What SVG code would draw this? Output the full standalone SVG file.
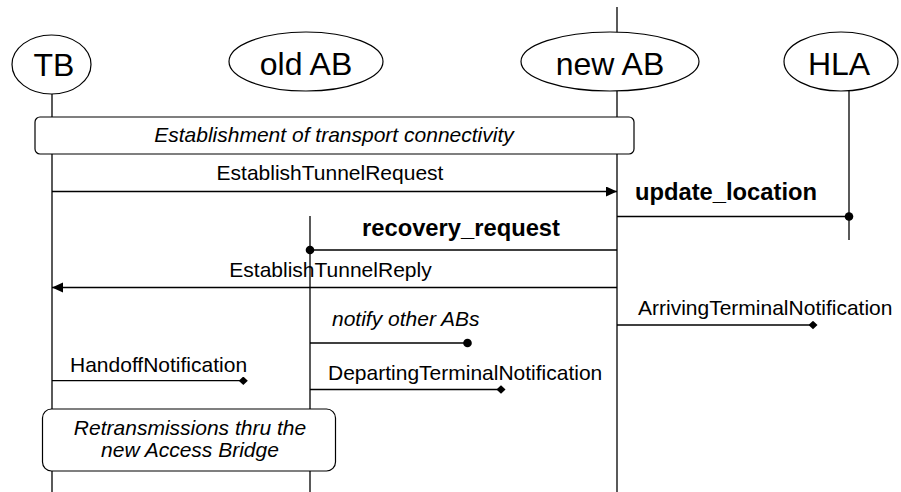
<svg xmlns="http://www.w3.org/2000/svg" width="901" height="492" viewBox="0 0 901 492">
<style>
.bg{fill:#fff}
.ll{stroke:#000;stroke-width:1.3;fill:none}
.head{fill:#fff;stroke:#000;stroke-width:1.2}
.box{fill:#fff;stroke:#000;stroke-width:1.2}
.msg{stroke:#000;stroke-width:1.3;fill:none}
.hname{font-family:"Liberation Sans",Arial,sans-serif;font-size:32px;fill:#000;text-anchor:middle}
.lab{font-family:"Liberation Sans",Arial,sans-serif;font-size:21px;fill:#000}
.it{font-style:italic}
.bd{font-weight:bold;font-size:23px}
.mid{text-anchor:middle}
</style>
<defs>
<marker id="arrow" markerUnits="userSpaceOnUse" markerWidth="12" markerHeight="11" refX="11" refY="5" orient="auto">
<path d="M0,0 L11,5 L0,10 z" fill="#000"/>
</marker>
<marker id="dot" markerUnits="userSpaceOnUse" markerWidth="10" markerHeight="10" refX="5" refY="5" orient="auto">
<circle cx="5" cy="5" r="4.3" fill="#000"/>
</marker>
<marker id="diamond" markerUnits="userSpaceOnUse" markerWidth="10" markerHeight="9" refX="4.5" refY="4.2" orient="auto">
<polygon points="0,4.2 4.5,0 9,4.2 4.5,8.4" fill="#000"/>
</marker>
</defs>
<rect class="bg" x="0" y="0" width="901" height="492"/>

<g id="TB">
<line class="ll" x1="52" y1="94" x2="52" y2="492"/>
<ellipse class="head" cx="51.5" cy="64.5" rx="39.5" ry="29.5"/>
<text class="hname" x="54" y="75.5">TB</text>
</g>
<g id="oldAB">
<line class="ll" x1="310" y1="216" x2="310" y2="492"/>
<ellipse class="head" cx="306" cy="61.5" rx="77" ry="29.5"/>
<text class="hname" x="306" y="74.5">old AB</text>
</g>
<g id="newAB">
<line class="ll" x1="617" y1="7" x2="617" y2="492"/>
<ellipse class="head" cx="610" cy="61.5" rx="89" ry="29.5"/>
<text class="hname" x="610" y="74.5">new AB</text>
</g>
<g id="HLA">
<line class="ll" x1="849" y1="91" x2="849" y2="240"/>
<ellipse class="head" cx="841" cy="61.5" rx="57" ry="29.5"/>
<text class="hname" x="839" y="74.5">HLA</text>
</g>

<g id="transport">
<rect class="box" x="35" y="117" width="599" height="37" rx="5"/>
<text class="lab it mid" x="334" y="142">Establishment of transport connectivity</text>
</g>
<g id="retrans">
<rect class="box" x="42.5" y="409" width="293" height="62" rx="9"/>
<text class="lab it mid" x="190" y="435">Retransmissions thru the</text>
<text class="lab it mid" x="190" y="457">new Access Bridge</text>
</g>

<g id="connectors">
<line class="msg" x1="52" y1="191.5" x2="617" y2="191.5" marker-end="url(#arrow)"/>
<text class="lab mid" x="330" y="180">EstablishTunnelRequest</text>

<line class="msg" x1="617" y1="216.5" x2="849" y2="216.5" marker-end="url(#dot)"/>
<text class="lab bd" x="635" y="200" textLength="182" lengthAdjust="spacingAndGlyphs">update_location</text>

<line class="msg" x1="617" y1="250" x2="310" y2="250" marker-end="url(#dot)"/>
<text class="lab bd" x="362" y="236" textLength="198" lengthAdjust="spacingAndGlyphs">recovery_request</text>

<line class="msg" x1="617" y1="287.5" x2="52" y2="287.5" marker-end="url(#arrow)"/>
<text class="lab mid" x="330.5" y="277">EstablishTunnelReply</text>

<line class="msg" x1="617" y1="325" x2="813" y2="325" marker-end="url(#diamond)"/>
<text class="lab" x="638" y="315">ArrivingTerminalNotification</text>

<line class="msg" x1="310" y1="343" x2="467.5" y2="343" marker-end="url(#dot)"/>
<text class="lab it" x="332" y="326">notify other ABs</text>

<line class="msg" x1="52" y1="380.7" x2="243.3" y2="380.7" marker-end="url(#diamond)"/>
<text class="lab" x="70" y="372">HandoffNotification</text>

<line class="msg" x1="310" y1="389.5" x2="501" y2="389.5" marker-end="url(#diamond)"/>
<text class="lab" x="328" y="380">DepartingTerminalNotification</text>
</g>
</svg>
